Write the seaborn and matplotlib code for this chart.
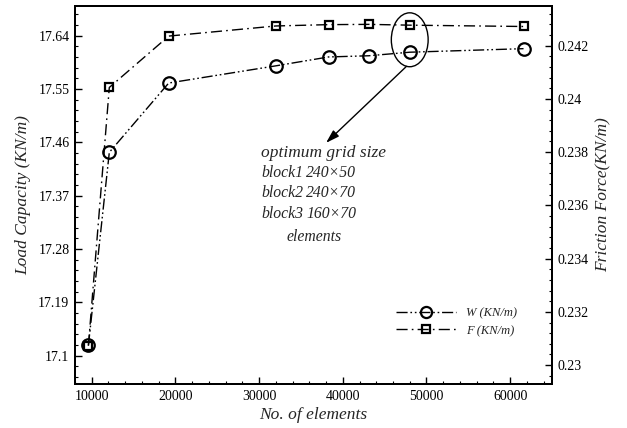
import matplotlib
matplotlib.use("Agg")
import matplotlib.pyplot as plt
import seaborn as sns
import numpy as np
import pandas as pd
from matplotlib.ticker import MultipleLocator, FixedLocator
from matplotlib.patches import Ellipse
from matplotlib.lines import Line2D

# ---- data ----
elements = [9600, 12100, 19200, 32000, 38300, 43100, 48000, 61600]
load_W = [17.117, 17.443, 17.560, 17.589, 17.604, 17.606, 17.612, 17.618]
friction_F = [0.23073, 0.24043, 0.24236, 0.24274, 0.24279, 0.24280, 0.24277, 0.24272]
left_ticks = [17.1, 17.19, 17.28, 17.37, 17.46, 17.55, 17.64]
right_ticks = [0.23, 0.232, 0.234, 0.236, 0.238, 0.24, 0.242]
x_ticks = [10000, 20000, 30000, 40000, 50000, 60000]
note_lines = [("optimum grid size", ""), ("block1", "240×50"), ("block2", "240×70"),
              ("block3", "160×70"), ("elements", "")]
optimum_index = 6

sns.set_style("ticks")
plt.rcParams['font.family'] = ['Liberation Serif', 'DejaVu Serif']

df = pd.DataFrame({"n": elements, "W": load_W, "F": friction_F})

fig = plt.figure(figsize=(6.27, 4.28), dpi=100)
ax = fig.add_axes([75/627, 1-384/428, 477/627, 378/428])
ax2 = ax.twinx()

sns.lineplot(data=df, x="n", y="W", ax=ax, color="black", lw=1.0, marker="o",
             markersize=9, markerfacecolor="none", markeredgecolor="black",
             markeredgewidth=1.6, zorder=3)
ax.lines[-1].set_dashes((8, 2, 1.2, 2, 1.2, 2))

sns.lineplot(data=df, x="n", y="F", ax=ax2, color="black", lw=1.0, marker="s",
             markersize=6, markerfacecolor="none", markeredgecolor="black",
             markeredgewidth=1.6, zorder=3)
ax2.lines[-1].set_dashes((8, 3, 1.2, 3))

ax.set_xlim(8000, 65000)
ax.set_ylim(17.052, 17.690)
ax2.set_ylim(0.22929, 0.24349)

ax.xaxis.set_major_locator(FixedLocator(x_ticks))
ax.xaxis.set_minor_locator(MultipleLocator(2000))
ax.yaxis.set_major_locator(FixedLocator(left_ticks))
ax.yaxis.set_minor_locator(MultipleLocator(0.018))
ax2.yaxis.set_major_locator(FixedLocator(right_ticks))
ax2.yaxis.set_minor_locator(MultipleLocator(0.0004))

ax.set_xticklabels([str(v) for v in x_ticks])
ax.set_yticklabels([f"{v:g}" for v in left_ticks])
ax2.set_yticklabels([f"{v:g}" for v in right_ticks])

for a in (ax, ax2):
    a.tick_params(which="major", direction="in", length=5, width=1.0, labelsize=10, colors="black", pad=4)
    a.tick_params(which="minor", direction="in", length=2.5, width=0.8, colors="black")
    for s in a.spines.values():
        s.set_visible(True)
        s.set_linewidth(1.4)
        s.set_color("black")
ax.tick_params(axis="y", which="both", left=True, right=False)
ax.tick_params(axis="x", which="both", bottom=True, top=False)
ax2.tick_params(axis="y", which="both", right=True, left=False)

ax.set_xlabel("No. of elements", fontsize=12.5, style="italic", labelpad=3)
ax.set_ylabel("Load Capacity (KN/m)", fontsize=12.5, style="italic", labelpad=5)
ax2.set_ylabel("Friction Force(KN/m)", fontsize=12.5, style="italic", labelpad=5)

# ellipse around the optimum point
ox = elements[optimum_index]
oy = 17.633
ax.add_patch(Ellipse((ox, oy), width=4400, height=0.091, fill=False,
                     edgecolor="black", lw=1.0, zorder=4))
ax.annotate("", xy=(38000, 17.459), xytext=(ox - 400, 17.588),
            arrowprops=dict(arrowstyle="-|>,head_length=0.8,head_width=0.25",
                            color="black", lw=1.0, shrinkA=0, shrinkB=0))

def afx(px):
    return (px - 75) / 477
def afy(py):
    return (384 - py) / 378

ys = [153, 173, 193, 214, 237]
for i, ((a, b), py) in enumerate(zip(note_lines, ys)):
    x0 = 261 if a != "elements" else 287
    fs = 12.5 if i == 0 else 11.3
    ax.text(afx(x0), afy(py), a, transform=ax.transAxes, ha="left", va="center",
            fontsize=fs, style="italic")
    if b:
        ax.text(afx(306), afy(py), b, transform=ax.transAxes, ha="left", va="center",
                fontsize=11.3, style="italic")

handles = [Line2D([], [], color="black", lw=1.0, marker="o", markersize=8,
                  markerfacecolor="none", markeredgewidth=1.6, dashes=(8, 2, 1.2, 2, 1.2, 2)),
           Line2D([], [], color="black", lw=1.0, marker="s", markersize=5.5,
                  markerfacecolor="none", markeredgewidth=1.6, dashes=(8, 3, 1.2, 3))]
ax.legend(handles, ["W (KN/m)", "F (KN/m)"], loc="center", bbox_to_anchor=(0.80, 0.164),
          frameon=False, prop={"style": "italic", "size": 9}, handlelength=4.8,
          handletextpad=0.8, labelspacing=0.45)

fig.savefig("out.png", dpi=100)
